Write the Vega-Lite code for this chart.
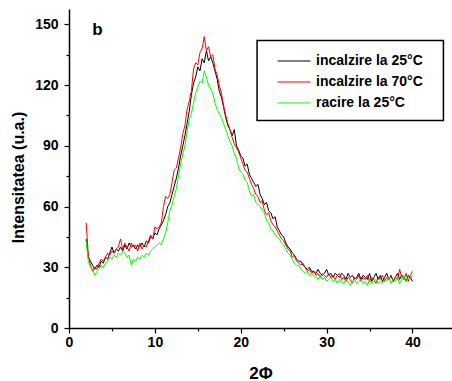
{
  "$schema": "https://vega.github.io/schema/vega-lite/v6.json",
  "width": 383,
  "height": 319,
  "autosize": {"type": "none"},
  "padding": {"left": 69, "top": 9, "right": 0, "bottom": 53},
  "background": "white",
  "config": {
    "view": {"stroke": null},
    "font": "Liberation Sans",
    "axis": {
      "grid": false,
      "domainColor": "#000000",
      "domainWidth": 1.5,
      "tickColor": "#000000",
      "tickWidth": 1.2,
      "labelColor": "#000000",
      "labelFont": "Liberation Sans",
      "labelFontSize": 14,
      "labelFontWeight": "bold",
      "titleColor": "#000000",
      "titleFont": "Liberation Sans",
      "titleFontWeight": "bold"
    }
  },
  "data": {"values": [
    {"x":2,"k25":44,"k70":52,"r25":43},
    {"x":2.25,"k25":35,"k70":36,"r25":33},
    {"x":2.5,"k25":33,"k70":31,"r25":30},
    {"x":2.75,"k25":31,"k70":28,"r25":29},
    {"x":3,"k25":29,"k70":30,"r25":26},
    {"x":3.25,"k25":31,"k70":29,"r25":28},
    {"x":3.5,"k25":30,"k70":32,"r25":29},
    {"x":3.75,"k25":33,"k70":34,"r25":31},
    {"x":4,"k25":32,"k70":33,"r25":30},
    {"x":4.25,"k25":35,"k70":35,"r25":32},
    {"x":4.5,"k25":34,"k70":37,"r25":33},
    {"x":4.75,"k25":37,"k70":36,"r25":35},
    {"x":5,"k25":40,"k70":38,"r25":34},
    {"x":5.25,"k25":37,"k70":37,"r25":36},
    {"x":5.5,"k25":39,"k70":39,"r25":35},
    {"x":5.75,"k25":38,"k70":40,"r25":37},
    {"x":6,"k25":40,"k70":44,"r25":36},
    {"x":6.25,"k25":38,"k70":39,"r25":38},
    {"x":6.5,"k25":41,"k70":42,"r25":37},
    {"x":6.75,"k25":39,"k70":40,"r25":35},
    {"x":7,"k25":42,"k70":38,"r25":36},
    {"x":7.25,"k25":40,"k70":42,"r25":31},
    {"x":7.5,"k25":41,"k70":40,"r25":34},
    {"x":7.75,"k25":39,"k70":41,"r25":33},
    {"x":8,"k25":41,"k70":38,"r25":35},
    {"x":8.25,"k25":40,"k70":42,"r25":34},
    {"x":8.5,"k25":42,"k70":39,"r25":36},
    {"x":8.75,"k25":40,"k70":41,"r25":35},
    {"x":9,"k25":43,"k70":40,"r25":37},
    {"x":9.25,"k25":42,"k70":43,"r25":36},
    {"x":9.5,"k25":45,"k70":46,"r25":38},
    {"x":9.75,"k25":44,"k70":44,"r25":39},
    {"x":10,"k25":47,"k70":50,"r25":40},
    {"x":10.25,"k25":46,"k70":49,"r25":41},
    {"x":10.5,"k25":49,"k70":50,"r25":42},
    {"x":10.75,"k25":51,"k70":52,"r25":41},
    {"x":11,"k25":53,"k70":60,"r25":44},
    {"x":11.25,"k25":56,"k70":65,"r25":47},
    {"x":11.5,"k25":60,"k70":64,"r25":52},
    {"x":11.75,"k25":62,"k70":66,"r25":58},
    {"x":12,"k25":66,"k70":72,"r25":61},
    {"x":12.25,"k25":70,"k70":78,"r25":65},
    {"x":12.5,"k25":74,"k70":79,"r25":69},
    {"x":12.75,"k25":79,"k70":84,"r25":75},
    {"x":13,"k25":85,"k70":89,"r25":81},
    {"x":13.25,"k25":90,"k70":96,"r25":86},
    {"x":13.5,"k25":95,"k70":100,"r25":90},
    {"x":13.75,"k25":101,"k70":108,"r25":97},
    {"x":14,"k25":107,"k70":112,"r25":103},
    {"x":14.25,"k25":115,"k70":117,"r25":106},
    {"x":14.5,"k25":121,"k70":128,"r25":111},
    {"x":14.75,"k25":124,"k70":131,"r25":116},
    {"x":15,"k25":129,"k70":130,"r25":119},
    {"x":15.25,"k25":127,"k70":136,"r25":122},
    {"x":15.5,"k25":133,"k70":138,"r25":121},
    {"x":15.75,"k25":131,"k70":144,"r25":127},
    {"x":16,"k25":137,"k70":137,"r25":124},
    {"x":16.25,"k25":132,"k70":139,"r25":120},
    {"x":16.5,"k25":134,"k70":134,"r25":118},
    {"x":16.75,"k25":131,"k70":135,"r25":116},
    {"x":17,"k25":127,"k70":128,"r25":111},
    {"x":17.25,"k25":123,"k70":125,"r25":108},
    {"x":17.5,"k25":117,"k70":120,"r25":106},
    {"x":17.75,"k25":114,"k70":116,"r25":104},
    {"x":18,"k25":109,"k70":110,"r25":101},
    {"x":18.25,"k25":104,"k70":105,"r25":98},
    {"x":18.5,"k25":100,"k70":101,"r25":95},
    {"x":18.75,"k25":98,"k70":98,"r25":92},
    {"x":19,"k25":95,"k70":94,"r25":90},
    {"x":19.25,"k25":98,"k70":91,"r25":86},
    {"x":19.5,"k25":90,"k70":89,"r25":84},
    {"x":19.75,"k25":88,"k70":87,"r25":79},
    {"x":20,"k25":85,"k70":84,"r25":77},
    {"x":20.25,"k25":84,"k70":81,"r25":76},
    {"x":20.5,"k25":80,"k70":78,"r25":73},
    {"x":20.75,"k25":81,"k70":77,"r25":72},
    {"x":21,"k25":76,"k70":74,"r25":68},
    {"x":21.25,"k25":74,"k70":71,"r25":65},
    {"x":21.5,"k25":72,"k70":69,"r25":66},
    {"x":21.75,"k25":70,"k70":66,"r25":62},
    {"x":22,"k25":71,"k70":65,"r25":61},
    {"x":22.25,"k25":66,"k70":62,"r25":60},
    {"x":22.5,"k25":64,"k70":63,"r25":58},
    {"x":22.75,"k25":61,"k70":58,"r25":57},
    {"x":23,"k25":62,"k70":56,"r25":53},
    {"x":23.25,"k25":58,"k70":57,"r25":52},
    {"x":23.5,"k25":57,"k70":53,"r25":49},
    {"x":23.75,"k25":54,"k70":51,"r25":48},
    {"x":24,"k25":55,"k70":50,"r25":46},
    {"x":24.25,"k25":50,"k70":48,"r25":45},
    {"x":24.5,"k25":48,"k70":46,"r25":44},
    {"x":24.75,"k25":46,"k70":44,"r25":42},
    {"x":25,"k25":45,"k70":43,"r25":41},
    {"x":25.25,"k25":42,"k70":41,"r25":39},
    {"x":25.5,"k25":40,"k70":39,"r25":37},
    {"x":25.75,"k25":39,"k70":38,"r25":36},
    {"x":26,"k25":37,"k70":35,"r25":34},
    {"x":26.25,"k25":36,"k70":36,"r25":32},
    {"x":26.5,"k25":34,"k70":33,"r25":31},
    {"x":26.75,"k25":33,"k70":32,"r25":31},
    {"x":27,"k25":33,"k70":31,"r25":29},
    {"x":27.25,"k25":31,"k70":32,"r25":28},
    {"x":27.5,"k25":30,"k70":30,"r25":27},
    {"x":27.75,"k25":29,"k70":28,"r25":28},
    {"x":28,"k25":30,"k70":29,"r25":26},
    {"x":28.25,"k25":28,"k70":27,"r25":27},
    {"x":28.5,"k25":28,"k70":28,"r25":26},
    {"x":28.75,"k25":27,"k70":26,"r25":25},
    {"x":29,"k25":29,"k70":27,"r25":24},
    {"x":29.25,"k25":27,"k70":25,"r25":26},
    {"x":29.5,"k25":26,"k70":27,"r25":24},
    {"x":29.75,"k25":27,"k70":26,"r25":25},
    {"x":30,"k25":29,"k70":25,"r25":23},
    {"x":30.25,"k25":26,"k70":27,"r25":24},
    {"x":30.5,"k25":27,"k70":25,"r25":25},
    {"x":30.75,"k25":25,"k70":26,"r25":23},
    {"x":31,"k25":27,"k70":24,"r25":24},
    {"x":31.25,"k25":26,"k70":26,"r25":22},
    {"x":31.5,"k25":25,"k70":27,"r25":24},
    {"x":31.75,"k25":27,"k70":24,"r25":23},
    {"x":32,"k25":26,"k70":25,"r25":22},
    {"x":32.25,"k25":24,"k70":23,"r25":24},
    {"x":32.5,"k25":27,"k70":25,"r25":23},
    {"x":32.75,"k25":25,"k70":24,"r25":21},
    {"x":33,"k25":26,"k70":22,"r25":23},
    {"x":33.25,"k25":24,"k70":25,"r25":24},
    {"x":33.5,"k25":25,"k70":24,"r25":22},
    {"x":33.75,"k25":27,"k70":26,"r25":23},
    {"x":34,"k25":24,"k70":23,"r25":24},
    {"x":34.25,"k25":26,"k70":25,"r25":22},
    {"x":34.5,"k25":25,"k70":24,"r25":23},
    {"x":34.75,"k25":24,"k70":26,"r25":21},
    {"x":35,"k25":27,"k70":23,"r25":24},
    {"x":35.25,"k25":23,"k70":25,"r25":22},
    {"x":35.5,"k25":25,"k70":24,"r25":23},
    {"x":35.75,"k25":27,"k70":22,"r25":24},
    {"x":36,"k25":24,"k70":25,"r25":22},
    {"x":36.25,"k25":26,"k70":24,"r25":23},
    {"x":36.5,"k25":23,"k70":26,"r25":22},
    {"x":36.75,"k25":25,"k70":23,"r25":24},
    {"x":37,"k25":27,"k70":25,"r25":23},
    {"x":37.25,"k25":24,"k70":24,"r25":25},
    {"x":37.5,"k25":26,"k70":26,"r25":22},
    {"x":37.75,"k25":23,"k70":23,"r25":24},
    {"x":38,"k25":25,"k70":25,"r25":23},
    {"x":38.25,"k25":27,"k70":24,"r25":25},
    {"x":38.5,"k25":24,"k70":29,"r25":22},
    {"x":38.75,"k25":26,"k70":25,"r25":24},
    {"x":39,"k25":25,"k70":24,"r25":26},
    {"x":39.25,"k25":23,"k70":27,"r25":23},
    {"x":39.5,"k25":26,"k70":23,"r25":25},
    {"x":39.75,"k25":25,"k70":26,"r25":24},
    {"x":40,"k25":23,"k70":28,"r25":26}
  ]},
  "layer": [
    {
      "transform": [{"fold": ["k25", "k70", "r25"], "as": ["series", "value"]}],
      "mark": {"type": "line", "strokeWidth": 1, "clip": true},
      "encoding": {
        "x": {
          "field": "x", "type": "quantitative",
          "scale": {"domain": [0, 44.6], "nice": false, "zero": false},
          "axis": {"orient": "bottom", "values": [0, 10, 20, 30, 40], "tickSize": 5, "labelPadding": 2, "title": "2Φ", "titleFontSize": 17, "titlePadding": 16, "labelFlush": false}
        },
        "y": {
          "field": "value", "type": "quantitative",
          "scale": {"domain": [0, 157.6], "nice": false, "zero": false},
          "axis": {"orient": "left", "values": [0, 30, 60, 90, 120, 150], "tickSize": 5, "labelPadding": 6, "title": "Intensitatea (u.a.)", "titleFontSize": 16, "titlePadding": 8, "titleY": 168, "labelFlush": false}
        },
        "color": {
          "field": "series", "type": "nominal",
          "scale": {"domain": ["k25", "k70", "r25"], "range": ["#000000", "#ff0000", "#00ff00"]},
          "legend": {
            "orient": "none", "legendX": 188, "legendY": 32,
            "title": null,
            "padding": 10, "rowPadding": 4,
            "symbolType": "M-1.833,0H1.833", "symbolSize": 324,
            "symbolStrokeWidth": 1.2, "symbolOffset": 17,
            "labelOffset": 12,
            "labelFont": "Liberation Sans", "labelFontSize": 14, "labelFontWeight": "bold", "labelColor": "#000000",
            "labelExpr": "datum.label == 'k25' ? 'incalzire la 25°C' : datum.label == 'k70' ? 'incalzire la 70°C' : 'racire la 25°C'"
          }
        }
      }
    },
    {
      "data": {"values": [{"box": "legend frame"}]},
      "mark": {"type": "rect", "fill": null, "stroke": "#000000", "strokeWidth": 1.5},
      "encoding": {
        "x": {"datum": 21.9, "type": "quantitative", "axis": null},
        "x2": {"datum": 43.6},
        "y": {"datum": 142.0, "type": "quantitative", "axis": null},
        "y2": {"datum": 102.5}
      }
    },
    {
      "data": {"values": [{"label": "b"}]},
      "mark": {"type": "text", "fontSize": 17, "fontWeight": "bold", "font": "Liberation Sans", "color": "#000000"},
      "encoding": {
        "x": {"datum": 3.3, "type": "quantitative",
          "axis": {"orient": "bottom", "values": [5, 15, 25, 35], "tickSize": 3, "labels": false, "domain": false, "title": null}},
        "y": {"datum": 147, "type": "quantitative",
          "axis": {"orient": "left", "values": [15, 45, 75, 105, 135], "tickSize": 3, "labels": false, "domain": false, "title": null}},
        "text": {"field": "label"}
      }
    }
  ],
  "resolve": {"axis": {"x": "independent", "y": "independent"}}
}
